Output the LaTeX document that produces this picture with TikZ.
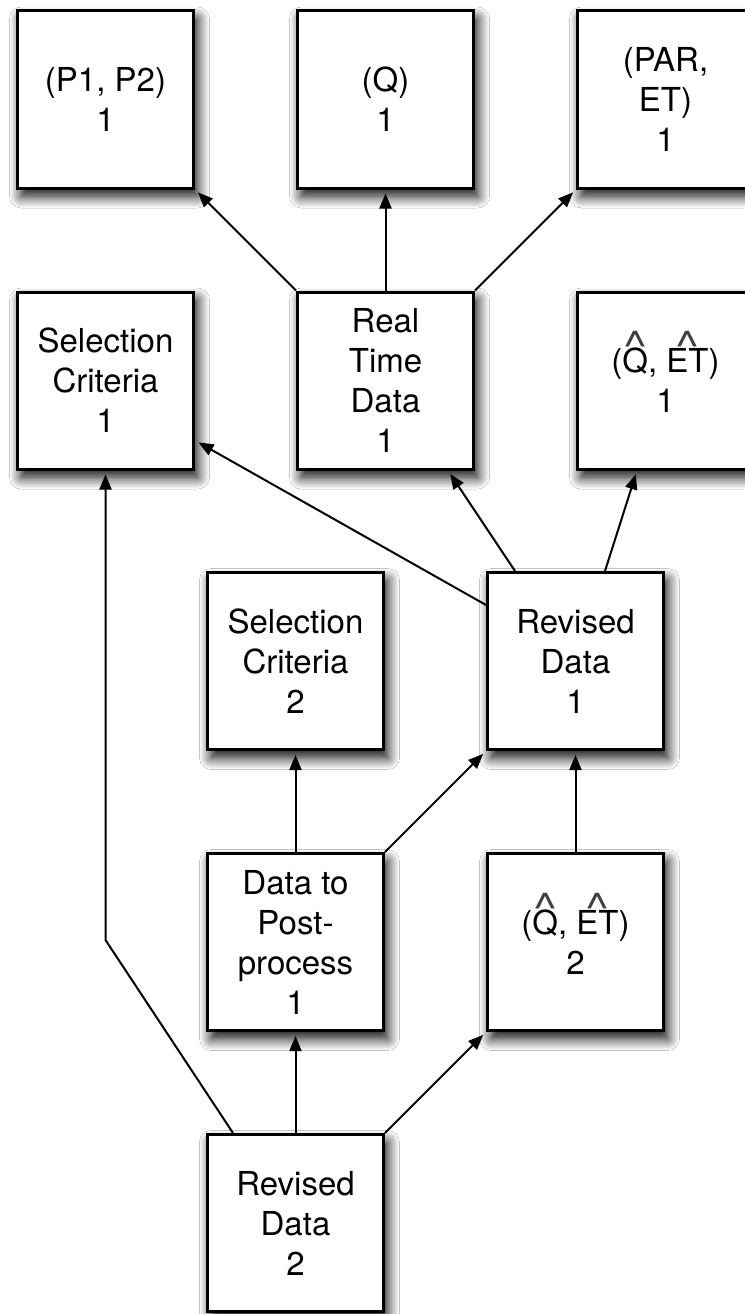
\documentclass[tikz,border=0pt]{standalone}
\usepackage{fontspec}
\usepackage{graphicx}
\setmainfont{TeX Gyre Heros}
\usetikzlibrary{arrows.meta,shadows.blur}

% circumflex set above a letter group without changing its height
\newcommand\hatted[1]{\ooalign{\hidewidth\smash{\raisebox{0.36em}{\color{black!75}\scalebox{1.55}[1.25]{\textasciicircum}}}\hidewidth\cr#1\cr}}

\tikzset{
  box/.style={draw, line width=3pt, fill=white,
    minimum width=176pt, minimum height=177pt, inner sep=0pt,
    align=center, font=\fontsize{33}{40}\selectfont,
    blur shadow={shadow xshift=4pt, shadow yshift=-8pt,
      shadow blur radius=12pt, shadow blur steps=12, shadow opacity=100}},
  link/.style={line width=2pt, -{Triangle[length=15pt,width=12pt]},
    shorten >=4pt},
}

\begin{document}
\begin{tikzpicture}[x=1pt,y=-1pt]
  \fill[white] (0,0) rectangle (744,1314);
  \useasboundingbox (0,0) rectangle (744,1314);

  % top row
  \node[box] (p12)   at (105.5,99.5) {(P1, P2)\\1};
  \node[box] (q)     at (385.5,99.5) {(Q)\\1};
  \node[box] (paret) at (665.5,99.5) {(PAR,\\ET)\\1};

  % second row
  \node[box] (sc1)  at (105.5,380.5) {Selection\\Criteria\\1};
  \node[box] (rtd)  at (385.5,380.5) {Real\\Time\\Data\\1};
  \node[box] (qet1) at (665.5,380.5) {(\hatted{Q}, \hatted{ET})\\1};

  % third row
  \node[box] (sc2) at (295.5,661) {Selection\\Criteria\\2};
  \node[box] (rd1) at (575.5,661) {Revised\\Data\\1};

  % fourth row
  \node[box] (dtp)  at (295.5,942) {Data to\\Post-\\process\\1};
  \node[box] (qet2) at (575.5,942) {(\hatted{Q}, \hatted{ET})\\2};

  % bottom row
  \node[box] (rd2) at (295.5,1223) {Revised\\Data\\2};

  % connectors
  \draw[link] (rtd.north west) -- (p12.south east);
  \draw[link] (rtd.north) -- (q.south);
  \draw[link] (rtd.north east) -- (paret.south west);

  \draw[link] ([yshift=-34pt]rd1.north west) -- ([yshift=-60pt]sc1.east);
  \draw[link] ([xshift=29pt]rd1.north west) -- ([xshift=-27pt]rtd.south east);
  \draw[link] ([xshift=-60pt]rd1.north east) -- ([xshift=61pt]qet1.south west);

  \draw[link] (dtp.north) -- (sc2.south);
  \draw[link] (dtp.north east) -- (rd1.south west);
  \draw[link] (qet2.north) -- (rd1.south);

  \draw[link] (rd2.north) -- (dtp.south);
  \draw[link] (rd2.north east) -- (qet2.south west);
  \coordinate (bend) at (105.5,940);
  \draw[link] ([xshift=27pt]rd2.north west) -- (bend) -- (sc1.south);
\end{tikzpicture}
\end{document}
